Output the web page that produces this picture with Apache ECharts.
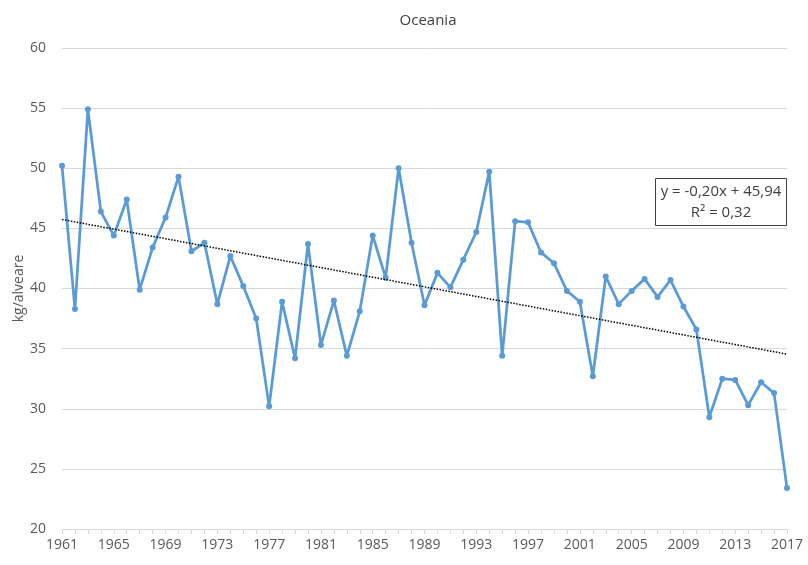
<!DOCTYPE html>
<html>
<head>
<meta charset="utf-8">
<script src="https://cdn.jsdelivr.net/npm/echarts@6/dist/echarts.min.js"></script>
<style>
  html, body { margin: 0; padding: 0; background: #fff; }
  #chart { width: 808px; height: 565px; }
</style>
</head>
<body>
<div id="chart"></div>
<script>
// anni 1961-2017
const years = [];
for (let y = 1961; y <= 2017; y++) years.push(String(y));

// kg/alveare
const values = [
  50.2, 38.3, 54.9, 46.4, 44.4, 47.4, 39.9, 43.4, 45.9, 49.3,
  43.1, 43.8, 38.7, 42.7, 40.2, 37.5, 30.2, 38.9, 34.2, 43.7,
  35.3, 39.0, 34.4, 38.1, 44.4, 40.9, 50.0, 43.8, 38.6, 41.3,
  40.1, 42.4, 44.7, 49.7, 34.4, 45.6, 45.5, 43.0, 42.1, 39.8,
  38.9, 32.7, 41.0, 38.7, 39.8, 40.8, 39.3, 40.7, 38.5, 36.6,
  29.3, 32.5, 32.4, 30.3, 32.2, 31.3, 23.4
];

// linea di tendenza dichiarata: y = -0,20x + 45,94
const trendSlope = -0.20;
const trendIntercept = 45.94;
const trendLines = ['y = -0,20x + 45,94', 'R² = 0,32'];

const trend = values.map((v, i) => +(trendSlope * (i + 1) + trendIntercept).toFixed(3));

const font = '"Open Sans", "Noto Sans", sans-serif';

const chart = echarts.init(document.getElementById('chart'));
chart.setOption({
  animation: false,
  title: {
    text: 'Oceania',
    left: 423,
    textAlign: 'center',
    top: 8,
    textStyle: { fontFamily: font, fontSize: 15, fontWeight: 'normal', color: '#404040' }
  },
  grid: { left: 62, right: 21, top: 48, bottom: 36, outerBoundsMode: 'none' },
  xAxis: {
    type: 'category',
    data: years,
    boundaryGap: false,
    axisLine: { lineStyle: { color: '#d9d9d9', width: 1 } },
    axisTick: { show: true, interval: 0, length: 5, lineStyle: { color: '#d9d9d9' } },
    axisLabel: {
      interval: 3,
      color: '#595959',
      fontFamily: font,
      fontSize: 14,
      margin: 9
    },
    splitLine: { show: false }
  },
  yAxis: {
    type: 'value',
    min: 20,
    max: 60,
    interval: 5,
    name: 'kg/alveare',
    nameLocation: 'middle',
    nameGap: 36,
    nameMoveOverlap: false,
    nameTextStyle: { fontFamily: font, fontSize: 14, color: '#595959' },
    axisLine: { show: false },
    axisTick: { show: false },
    axisLabel: { color: '#595959', fontFamily: font, fontSize: 14, margin: 16 },
    splitLine: { lineStyle: { color: '#d9d9d9', width: 1 } }
  },
  series: [
    {
      name: 'kg/alveare',
      type: 'line',
      data: values,
      symbol: 'circle',
      symbolSize: 6,
      lineStyle: { color: '#5b9bd5', width: 2.75 },
      itemStyle: { color: '#5b9bd5' },
      z: 3
    },
    {
      name: 'Tendenza',
      type: 'line',
      data: trend,
      symbol: 'none',
      lineStyle: { color: '#000', width: 1.5, type: [1.5, 1.5] },
      z: 4
    }
  ],
  graphic: [
    {
      type: 'group',
      left: 655,
      top: 178,
      z: 10,
      children: [
        {
          type: 'rect',
          shape: { x: 0, y: 0, width: 131, height: 47 },
          style: { fill: '#fff', stroke: '#404040', lineWidth: 1 }
        },
        {
          type: 'text',
          x: 65.5,
          y: 13,
          style: {
            text: trendLines[0],
            font: '15px ' + font,
            fill: '#404040',
            align: 'center',
            verticalAlign: 'middle'
          }
        },
        {
          type: 'text',
          x: 65.5,
          y: 34,
          style: {
            text: trendLines[1],
            font: '15px ' + font,
            fill: '#404040',
            align: 'center',
            verticalAlign: 'middle'
          }
        }
      ]
    }
  ]
});
</script>
</body>
</html>
